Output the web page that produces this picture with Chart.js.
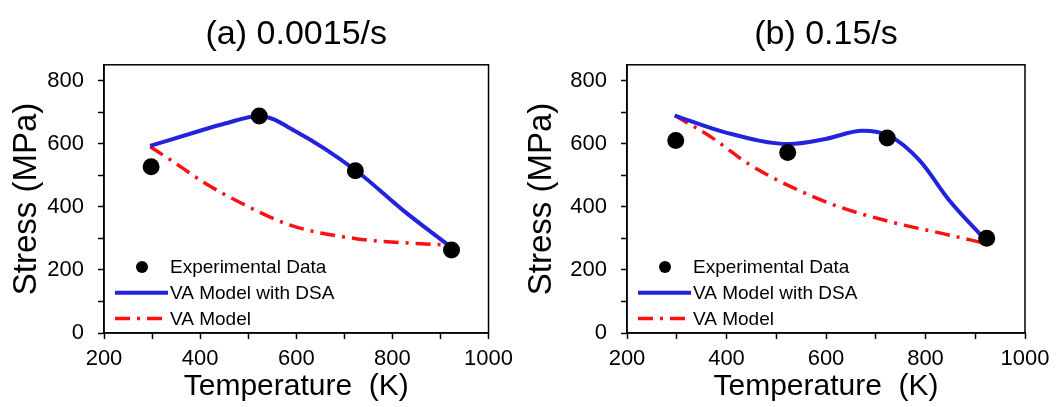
<!DOCTYPE html>
<html>
<head>
<meta charset="utf-8">
<script src="https://cdn.jsdelivr.net/npm/chart.js@4/dist/chart.umd.min.js"></script>
<style>
  body { margin: 0; background: #fff; }
  canvas { position: absolute; top: 0; }
  #chartA { left: 0; }
  #chartB { left: 520px; }
</style>
</head>
<body>
<canvas id="chartA" width="520" height="407"></canvas>
<canvas id="chartB" width="537" height="407"></canvas>
<script>
// experimental points (both strain rates tested at the same temperatures)
const expTemps = [298, 523, 723, 923];
const expStressA = [527, 688, 514, 263];
const expStressB = [610, 572, 618, 300];

// VA model with DSA
const dsaTempsA = [296, 400, 450, 523, 600, 724, 823, 922];
const dsaStressA = [593, 641, 663, 688, 638, 515, 388, 272];
const dsaTempsB = [296, 397, 525, 599, 673, 727, 788, 848, 915];
const dsaStressB = [689, 636, 599, 615, 641, 625, 547, 420, 304];

// plain VA model
const vaTempsA = [296, 340, 407, 481, 589, 724, 859, 919];
const vaStressA = [590, 547, 478, 415, 341, 299, 283, 279];
const vaTempsB = [296, 370, 444, 525, 619, 733, 835, 915];
const vaStressB = [689, 620, 536, 467, 404, 351, 315, 286];

// axis ticks (labels only every 200)
const tempTicks = [200, 300, 400, 500, 600, 700, 800, 900, 1000];
const stressTicks = [0, 100, 200, 300, 400, 500, 600, 700, 800];

const titles = ['(a) 0.0015/s', '(b) 0.15/s'];
const labels = ['Experimental Data', 'VA Model with DSA', 'VA Model'];

const FONT = '"Liberation Sans", Arial, sans-serif';
const toPts = (xs, ys) => xs.map((x, i) => ({ x: x, y: ys[i] }));

// box around the plot area
const framePlugin = {
  id: 'frame',
  afterDraw(chart) {
    const { ctx, chartArea: a } = chart;
    ctx.save();
    ctx.strokeStyle = '#000';
    ctx.lineWidth = 1.5;
    ctx.strokeRect(a.left, a.top, a.right - a.left, a.bottom - a.top);
    ctx.restore();
  }
};

// legend sits inside the plot, bottom left
const legendPlugin = {
  id: 'insideLegend',
  afterDatasetsDraw(chart) {
    const { ctx, chartArea } = chart;
    const x0 = chartArea.left;
    ctx.save();
    ctx.font = '19px ' + FONT;
    ctx.textBaseline = 'middle';
    chart.data.datasets.forEach((ds, i) => {
      const y = chartArea.bottom - 66 + i * 25.7;
      if (ds.showLine === false) {
        ctx.fillStyle = ds.backgroundColor;
        ctx.beginPath();
        ctx.arc(x0 + 38, y, 6, 0, Math.PI * 2);
        ctx.fill();
      } else {
        ctx.strokeStyle = ds.borderColor;
        ctx.lineWidth = ds.borderWidth;
        ctx.setLineDash(ds.borderDash || []);
        ctx.beginPath();
        ctx.moveTo(x0 + 11, y);
        ctx.lineTo(x0 + 64, y);
        ctx.stroke();
        ctx.setLineDash([]);
      }
      ctx.fillStyle = '#000';
      ctx.fillText(ds.label, x0 + 66, y + 1);
    });
    ctx.restore();
  }
};

function makeChart(id, title, expStress, dsaT, dsaS, vaT, vaS, yAxisWidth, padRight, yTitlePad) {
  return new Chart(document.getElementById(id), {
    type: 'scatter',
    data: {
      datasets: [
        {
          label: labels[0],
          data: toPts(expTemps, expStress),
          showLine: false,
          pointRadius: 8.5,
          pointHoverRadius: 8.5,
          backgroundColor: '#000',
          borderColor: '#000',
          borderWidth: 0
        },
        {
          label: labels[1],
          data: toPts(dsaT, dsaS),
          showLine: true,
          cubicInterpolationMode: 'monotone',
          borderColor: '#2323dc',
          borderWidth: 4,
          pointRadius: 0
        },
        {
          label: labels[2],
          data: toPts(vaT, vaS),
          showLine: true,
          cubicInterpolationMode: 'monotone',
          borderColor: '#ff1010',
          borderWidth: 3.5,
          borderDash: [15, 7, 3, 7],
          pointRadius: 0
        }
      ]
    },
    options: {
      responsive: false,
      animation: false,
      devicePixelRatio: 1,
      layout: { padding: { left: 0, right: padRight, top: 0, bottom: 0 } },
      plugins: {
        legend: { display: false },
        tooltip: { enabled: false },
        title: {
          display: true,
          text: title,
          fullSize: false,
          color: '#000',
          font: { family: FONT, size: 34, weight: 'normal' },
          padding: { top: 14, bottom: 10 }
        }
      },
      scales: {
        x: {
          type: 'linear',
          min: 200,
          max: 1000,
          afterFit: s => { s.height = 74; },
          afterBuildTicks: s => { s.ticks = tempTicks.map(v => ({ value: v })); },
          border: { display: true, color: '#000', width: 1.5 },
          grid: { drawOnChartArea: false, drawTicks: true, tickLength: 6, color: '#000', tickWidth: 1.5 },
          ticks: {
            autoSkip: false,
            maxRotation: 0,
            padding: 7,
            color: '#000',
            font: { family: FONT, size: 22 },
            callback: v => (v % 200 === 0 ? v : '')
          },
          title: {
            display: true,
            text: 'Temperature  (K)',
            color: '#000',
            font: { family: FONT, size: 30 },
            padding: { top: 2, bottom: 2 }
          }
        },
        y: {
          min: 0,
          max: 850,
          afterFit: s => { s.width = yAxisWidth; },
          afterBuildTicks: s => { s.ticks = stressTicks.map(v => ({ value: v })); },
          border: { display: true, color: '#000', width: 1.5 },
          grid: { drawOnChartArea: false, drawTicks: true, tickLength: 6, color: '#000', tickWidth: 1.5 },
          ticks: {
            autoSkip: false,
            padding: 14,
            color: '#000',
            font: { family: FONT, size: 22 },
            callback: v => (v % 200 === 0 ? v : '')
          },
          title: {
            display: true,
            text: 'Stress (MPa)',
            color: '#000',
            font: { family: FONT, size: 33 },
            padding: { top: yTitlePad, bottom: yTitlePad }
          }
        }
      }
    },
    plugins: [framePlugin, legendPlugin]
  });
}

makeChart('chartA', titles[0], expStressA, dsaTempsA, dsaStressA, vaTempsA, vaStressA, 104, 21, 7);
makeChart('chartB', titles[1], expStressB, dsaTempsB, dsaStressB, vaTempsB, vaStressB, 107, 32, 2);
</script>
</body>
</html>
